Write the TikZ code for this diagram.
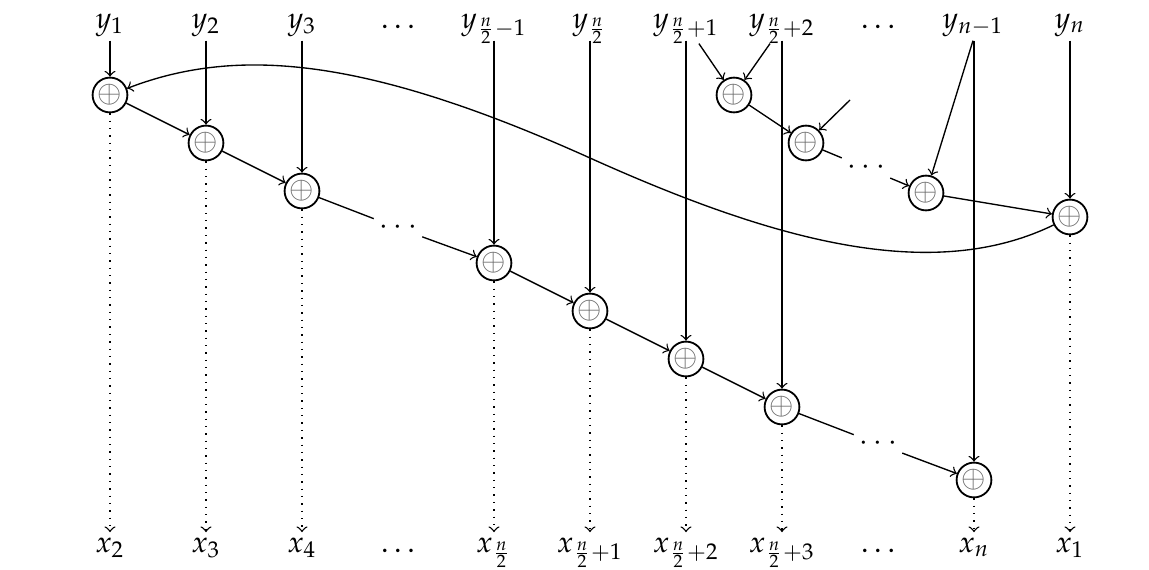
\documentclass[tikz,border=0pt]{standalone}
\usepackage{mathpazo}
\tikzset{
  xorgate/.style={circle, draw, line width=0.6pt, inner sep=0pt, minimum size=11.6pt, text=black!60},
  toplab/.style={inner sep=0pt, anchor=base, text depth=4pt},
  botlab/.style={inner sep=0pt, anchor=base, text height=6.4pt},
  dotsnode/.style={inner sep=1.5pt},
  conn/.style={line width=0.45pt},
  arr/.style={->, line width=0.45pt},
  dotarr/.style={->, dotted, line width=0.45pt},
}
\begin{document}
\begin{tikzpicture}[x=0.3333pt, y=-0.3333pt, >=to]
\useasboundingbox (0,0) rectangle (1149,570);

% top labels
\node[toplab] (y1) at (110,28) {$y_1$};
\node[toplab] (y2) at (206,28) {$y_2$};
\node[toplab] (y3) at (302,28) {$y_3$};
\node[toplab] (yd1) at (398,28) {$\ldots$};
\node[toplab] (y5) at (494,28) {$y_{\frac{n}{2}-1}$};
\node[toplab] (y6) at (590,28) {$y_{\frac{n}{2}}$};
\node[toplab] (y7) at (686,28) {$y_{\frac{n}{2}+1}$};
\node[toplab] (y8) at (782,28) {$y_{\frac{n}{2}+2}$};
\node[toplab] (yd2) at (878,28) {$\ldots$};
\node[toplab] (y10) at (973,28) {$y_{n-1}$};
\node[toplab] (y11) at (1070,28) {$y_n$};

% bottom labels
\node[botlab] (x2) at (110,552) {$x_2$};
\node[botlab] (x3) at (206,552) {$x_3$};
\node[botlab] (x4) at (302,552) {$x_4$};
\node[botlab] (xd1) at (398,552) {$\ldots$};
\node[botlab] (x5) at (494,552) {$x_{\frac{n}{2}}$};
\node[botlab] (x6) at (590,552) {$x_{\frac{n}{2}+1}$};
\node[botlab] (x7) at (686,552) {$x_{\frac{n}{2}+2}$};
\node[botlab] (x8) at (782,552) {$x_{\frac{n}{2}+3}$};
\node[botlab] (xd2) at (878,552) {$\ldots$};
\node[botlab] (xn) at (974,552) {$x_n$};
\node[botlab] (x1) at (1070,552) {$x_1$};

% main chain
\node[xorgate] (c1) at (110,95) {$\oplus$};
\node[xorgate] (c2) at (206,143) {$\oplus$};
\node[xorgate] (c3) at (302,191) {$\oplus$};
\node[dotsnode] (dL) at (398,228) {$\cdots$};
\node[xorgate] (c5) at (494,263) {$\oplus$};
\node[xorgate] (c6) at (590,311) {$\oplus$};
\node[xorgate] (c7) at (686,359) {$\oplus$};
\node[xorgate] (c8) at (782,407) {$\oplus$};
\node[dotsnode] (dR) at (878,444) {$\cdots$};
\node[xorgate] (c10) at (974,480) {$\oplus$};
\node[xorgate] (cn) at (1070,217) {$\oplus$};

% upper chain
\node[xorgate] (ga) at (734,95) {$\oplus$};
\node[xorgate] (gb) at (806,143) {$\oplus$};
\node[dotsnode] (dU) at (866,168) {$\cdots$};
\node[xorgate] (gc) at (926,193) {$\oplus$};
\coordinate (fr) at (850,100);

% vertical inputs
\draw[arr] (y1.south) -- (c1);
\draw[arr] (y2.south) -- (c2);
\draw[arr] (y3.south) -- (c3);
\draw[arr] (y5.south) -- (c5);
\draw[arr] (y6.south) -- (c6);
\draw[arr] (y7.south) -- (c7);
\draw[arr] (y8.south) -- (c8);
\draw[arr] (y10.south -| c10) -- (c10);
\draw[arr] (y11.south) -- (cn);

% diagonal inputs
\draw[arr] ([xshift=4.3pt,yshift=-1pt]y7.south) -- (ga);
\draw[arr] ([xshift=-4pt,yshift=-1pt]y8.south) -- (ga);
\draw[arr] (y10.south) -- (gc);
\draw[arr] (fr) -- (gb);

% main chain connections
\draw[arr] (c1) -- (c2);
\draw[arr] (c2) -- (c3);
\draw[conn] (c3) -- (dL);
\draw[arr] (dL) -- (c5);
\draw[arr] (c5) -- (c6);
\draw[arr] (c6) -- (c7);
\draw[arr] (c7) -- (c8);
\draw[conn] (c8) -- (dR);
\draw[arr] (dR) -- (c10);

% upper chain connections
\draw[arr] (ga) -- (gb);
\draw[conn] (gb) -- (dU);
\draw[arr] (dU) -- (gc);
\draw[arr] (gc) -- (cn);

% feedback curve
\draw[arr] (cn) .. controls (930,285) and (770,239) .. (590,158)
  .. controls (370,59) and (240,45) .. (c1);

% dotted outputs
\draw[dotarr] (c1) -- (x2);
\draw[dotarr] (c2) -- (x3);
\draw[dotarr] (c3) -- (x4);
\draw[dotarr] (c5) -- (x5);
\draw[dotarr] (c6) -- (x6);
\draw[dotarr] (c7) -- (x7);
\draw[dotarr] (c8) -- (x8);
\draw[dotarr] (c10) -- (xn);
\draw[dotarr] (cn) -- (x1);
\end{tikzpicture}
\end{document}
